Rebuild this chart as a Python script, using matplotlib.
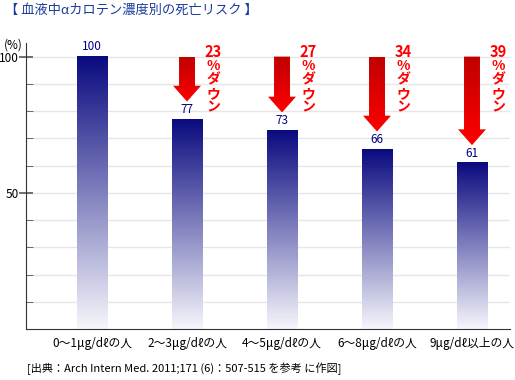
import numpy as np
import matplotlib
matplotlib.use('Agg')
import matplotlib.pyplot as plt
from matplotlib.colors import LinearSegmentedColormap
from matplotlib.patches import Polygon

plt.rcParams['font.family'] = ['Noto Sans CJK JP', 'DejaVu Sans']

categories = ['0～1μg/dℓの人', '2～3μg/dℓの人', '4～5μg/dℓの人', '6～8μg/dℓの人', '9μg/dℓ以上の人']
risk = [100, 77, 73, 66, 61]
down_labels = [None, '23', '27', '34', '39']

title = '【 血液中αカロテン濃度別の死亡リスク 】'
source = '[出典：Arch Intern Med. 2011;171 (6)：507-515 を参考 に作図]'

fig = plt.figure(figsize=(5.15, 3.8), dpi=100)
ax = fig.add_axes([26 / 515, 1 - 329 / 380, 484 / 515, 286 / 380])

bar_cmap = LinearSegmentedColormap.from_list('bar', ['#f6f6fc', '#0a0a80'])
arrow_cmap = LinearSegmentedColormap.from_list('arr', ['#ff0000', '#c00000'])
grad = np.linspace(0, 1, 256).reshape(-1, 1)

w = 0.32
x = np.arange(len(categories))
for xi, v in zip(x, risk):
    ax.imshow(grad, cmap=bar_cmap, origin='lower', aspect='auto',
              extent=[xi - w / 2, xi + w / 2, 0, v], zorder=2)
    ax.text(xi, v + 1.2, str(v), ha='center', va='bottom', color='#000080',
            fontsize=8.5, zorder=4)

# red "down" arrows
shaft, head, head_len = 0.084, 0.147, 5.8
for xi, v, lab in zip(x, risk, down_labels):
    if lab is None:
        continue
    tip = v + 6.5
    pts = [(xi - shaft, 100), (xi + shaft, 100), (xi + shaft, tip + head_len),
           (xi + head, tip + head_len), (xi, tip), (xi - head, tip + head_len),
           (xi - shaft, tip + head_len)]
    poly = Polygon(pts, closed=True, facecolor='none', edgecolor='none')
    ax.add_patch(poly)
    im = ax.imshow(grad, cmap=arrow_cmap, origin='lower', aspect='auto',
                   extent=[xi - head, xi + head, tip, 100], zorder=3)
    im.set_clip_path(poly)
    tx = xi + 0.274
    ax.text(tx, 101.8, lab, ha='center', va='center', color='#ff0000',
            fontsize=10.5, fontweight='bold', clip_on=False, zorder=5)
    for k, ch in enumerate(['%', 'ダ', 'ウ', 'ン']):
        ax.text(tx, 101.8 - 5.15 * (k + 1), ch, ha='center', va='center',
                color='#ff0000', fontsize=10, fontweight='bold', clip_on=False, zorder=5)

ax.set_xlim(-0.695, 4.4)
ax.set_ylim(0, 105)

ax.set_yticks([50, 100])
ax.set_yticks(np.arange(10, 101, 10), minor=True)
ax.tick_params(axis='y', which='major', direction='inout', length=10, width=1.2,
               labelsize=8.5, pad=0, color='#555555')
ax.tick_params(axis='y', which='minor', direction='in', length=5, color='#555555')
ax.set_xticks(x)
ax.set_xticklabels(categories)
ax.tick_params(axis='x', direction='in', length=4, labelsize=8.5, pad=6, color='#555555')

ax.grid(axis='y', which='both', color='#e6e6e6', lw=1, zorder=0)
ax.set_axisbelow(True)
for s in ('top', 'right'):
    ax.spines[s].set_visible(False)
for s in ('left', 'bottom'):
    ax.spines[s].set_color('#333333')

fig.text(4 / 515, 1 - 45 / 380, '(%)', fontsize=8.5, va='center', ha='left')
fig.text(5 / 515, 1 - 10 / 380, title, fontsize=9.5, color='#1a3c9c',
         va='center', ha='left')
fig.text(27 / 515, 1 - 369 / 380, source, fontsize=8, va='center', ha='left')

fig.savefig('out.png', dpi=100)
